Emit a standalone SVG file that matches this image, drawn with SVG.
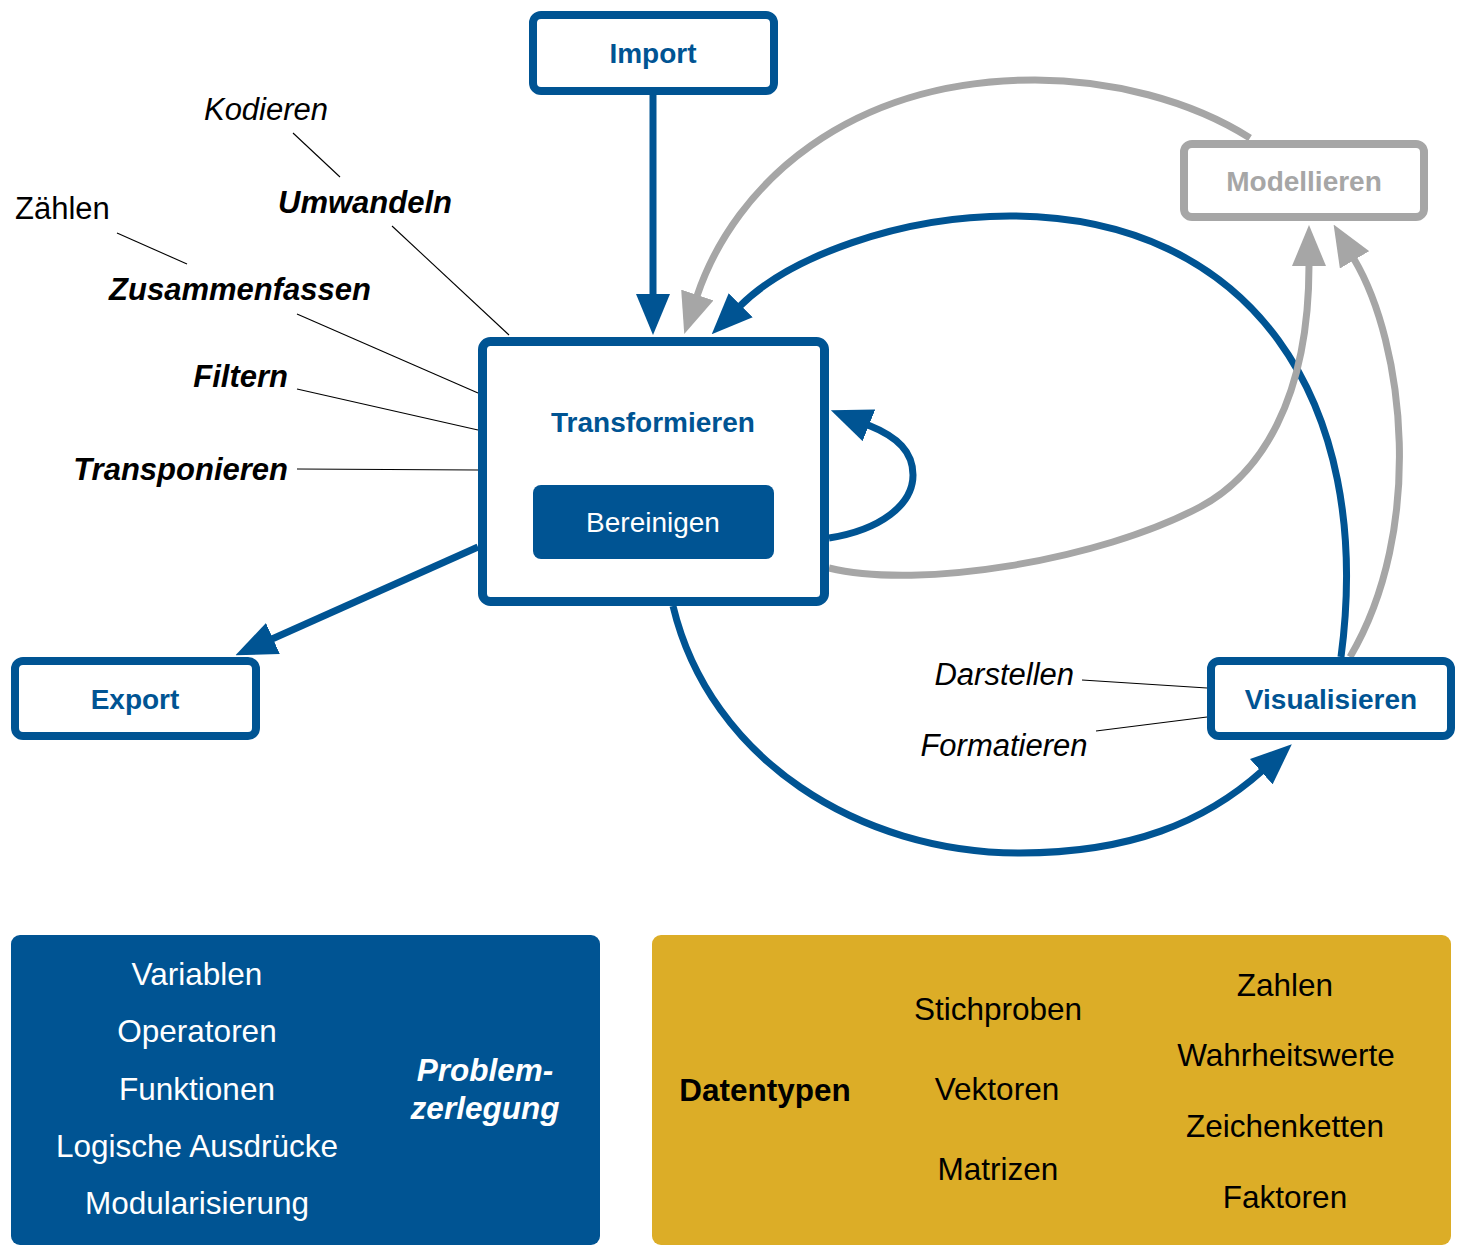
<svg xmlns="http://www.w3.org/2000/svg" width="1467" height="1256" viewBox="0 0 1467 1256">
<style>
.node{fill:#fff;stroke:#005493;stroke-width:8}
.gnode{fill:#fff;stroke:#a6a6a6;stroke-width:8}
.t{font-family:"Liberation Sans",Arial,sans-serif}
.nl{font-size:28px;font-weight:bold;fill:#005493;text-anchor:middle}
.gl{font-size:28px;font-weight:bold;fill:#a6a6a6;text-anchor:middle}
.lab{font-size:31px;font-style:italic;fill:#000}
.labb{font-size:31px;font-style:italic;font-weight:bold;fill:#000}
.w{font-size:31.5px;fill:#fff;text-anchor:middle}
.k{font-size:31.5px;fill:#000;text-anchor:middle}
.blue{fill:none;stroke:#005493;stroke-width:7}
.gray{fill:none;stroke:#a6a6a6;stroke-width:7}
.thin{fill:none;stroke:#000;stroke-width:1.1}
</style>
<defs>
<marker id="ab" markerUnits="userSpaceOnUse" markerWidth="41" markerHeight="34" viewBox="0 0 41 34" refX="1" refY="17" orient="auto"><path d="M0,0 L41,17 L0,34 z" fill="#005493"/></marker>
<marker id="ag" markerUnits="userSpaceOnUse" markerWidth="41" markerHeight="34" viewBox="0 0 41 34" refX="1" refY="17" orient="auto"><path d="M0,0 L41,17 L0,34 z" fill="#a6a6a6"/></marker>
</defs>

<g id="connectors">
<path class="blue" d="M653,95 L653,295" marker-end="url(#ab)"/>
<path class="blue" d="M478,547 L272,639" marker-end="url(#ab)"/>
<path class="blue" d="M829,538 C880,530 913,505 913,475 C913,452 898,437 868,425" marker-end="url(#ab)"/>
<path class="gray" d="M1250,138 C1190,100 1110,80 1035,80 C850,80 735,183 697,296" marker-end="url(#ag)"/>
<path class="blue" d="M1341,657 C1375,400 1250,216 1010,216 C900,216 789,257 740,306" marker-end="url(#ab)"/>
<path class="blue" d="M673,606 C710,760 860,853 1020,853 C1130,853 1205,822 1262,771" marker-end="url(#ab)"/>
<path class="gray" d="M829,568 C920,590 1100,560 1200,507 C1260,475 1309,400 1309,265" marker-end="url(#ag)"/>
<path class="gray" d="M1350,657 C1425,530 1405,345 1354,259" marker-end="url(#ag)"/>
<line class="thin" x1="293" y1="133" x2="340" y2="177"/>
<line class="thin" x1="117" y1="233" x2="187" y2="264"/>
<line class="thin" x1="392" y1="226" x2="509" y2="335"/>
<line class="thin" x1="297" y1="314" x2="478" y2="393"/>
<line class="thin" x1="297" y1="389" x2="478" y2="430"/>
<line class="thin" x1="297" y1="469" x2="478" y2="470"/>
<line class="thin" x1="1082" y1="680" x2="1207" y2="688"/>
<line class="thin" x1="1096" y1="731" x2="1207" y2="717"/>
</g>

<g id="import">
<rect class="node" x="533" y="15" width="241" height="76" rx="8"/>
<text class="t nl" x="653" y="63">Import</text>
</g>
<g id="transformieren">
<rect class="node" x="482.5" y="341.5" width="342" height="260" rx="8" style="stroke-width:9"/>
<text class="t nl" x="653" y="432">Transformieren</text>
<rect x="533" y="485" width="241" height="74" rx="8" fill="#005493"/>
<text class="t" x="653" y="532" font-size="28" fill="#fff" text-anchor="middle">Bereinigen</text>
</g>
<g id="export">
<rect class="node" x="15" y="661" width="241" height="75" rx="8"/>
<text class="t nl" x="135" y="709">Export</text>
</g>
<g id="modellieren">
<rect class="gnode" x="1184" y="144" width="240" height="73" rx="8"/>
<text class="t gl" x="1304" y="191">Modellieren</text>
</g>
<g id="visualisieren">
<rect class="node" x="1211" y="661" width="240" height="75" rx="8"/>
<text class="t nl" x="1331" y="709">Visualisieren</text>
</g>

<g id="labels">
<text class="t lab" x="266" y="120" text-anchor="middle">Kodieren</text>
<text class="t labb" x="365" y="213" text-anchor="middle">Umwandeln</text>
<text class="t" x="15" y="219" font-size="31" fill="#000">Zählen</text>
<text class="t labb" x="240" y="300" text-anchor="middle">Zusammenfassen</text>
<text class="t labb" x="288" y="387" text-anchor="end">Filtern</text>
<text class="t labb" x="288" y="480" text-anchor="end">Transponieren</text>
<text class="t lab" x="1074" y="685" text-anchor="end">Darstellen</text>
<text class="t lab" x="1004" y="756" text-anchor="middle">Formatieren</text>
</g>

<g id="grundlagen">
<rect x="11" y="935" width="589" height="310" rx="9" fill="#005493"/>
<text class="t w" x="197" y="985">Variablen</text>
<text class="t w" x="197" y="1042">Operatoren</text>
<text class="t w" x="197" y="1100">Funktionen</text>
<text class="t w" x="197" y="1157">Logische Ausdrücke</text>
<text class="t w" x="197" y="1214">Modularisierung</text>
<text class="t w" x="485" y="1081" font-size="32" font-weight="bold" font-style="italic">Problem-</text>
<text class="t w" x="485" y="1119" font-size="32" font-weight="bold" font-style="italic">zerlegung</text>
</g>

<g id="datentypen">
<rect x="652" y="935" width="799" height="310" rx="9" fill="#dcad27"/>
<text class="t k" x="765" y="1101" font-weight="bold">Datentypen</text>
<text class="t k" x="998" y="1020">Stichproben</text>
<text class="t k" x="997" y="1100">Vektoren</text>
<text class="t k" x="998" y="1180">Matrizen</text>
<text class="t k" x="1285" y="996">Zahlen</text>
<text class="t k" x="1286" y="1066">Wahrheitswerte</text>
<text class="t k" x="1285" y="1137">Zeichenketten</text>
<text class="t k" x="1285" y="1208">Faktoren</text>
</g>
</svg>
